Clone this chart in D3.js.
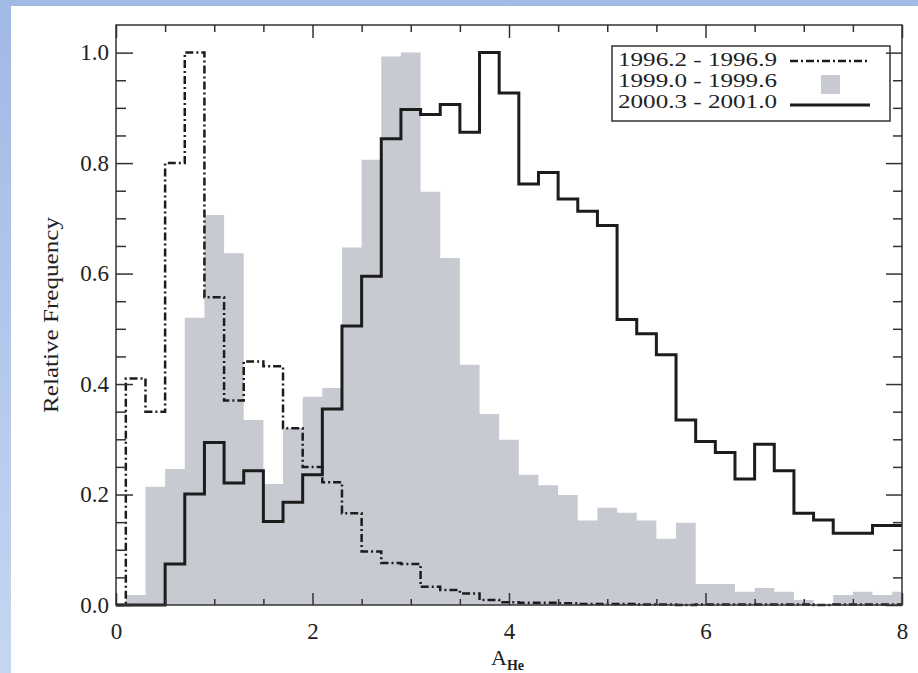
<!DOCTYPE html>
<html>
<head>
    <meta charset="utf-8">
    <title>Relative frequency of A_He</title>
    <style>
        body { margin: 0; }
        svg { display: block; }
        text { font-family: "Liberation Serif", "Times New Roman", serif; fill: #222; }
    </style>
    <script src="https://cdn.jsdelivr.net/npm/d3@7"></script>
</head>
<body>
    <script>
        // bin centres, width 0.2
        const binCenters = [0, 0.2, 0.4, 0.6, 0.8, 1.0, 1.2, 1.4, 1.6, 1.8, 2.0, 2.2, 2.4, 2.6, 2.8, 3.0,
            3.2, 3.4, 3.6, 3.8, 4.0, 4.2, 4.4, 4.6, 4.8, 5.0, 5.2, 5.4, 5.6, 5.8, 6.0, 6.2, 6.4, 6.6,
            6.8, 7.0, 7.2, 7.4, 7.6, 7.8, 8.0]
        const binWidth = 0.2

        // 1996.2 - 1996.9 (dash-dot)
        const freq1996 = [0, 0.41, 0.35, 0.80, 1.0, 0.557, 0.37, 0.441, 0.432, 0.32, 0.25, 0.222, 0.166, 0.097,
            0.076, 0.074, 0.033, 0.027, 0.021, 0.009, 0.005, 0.004, 0.004, 0.003, 0.002, 0.002, 0.002, 0.001,
            0.001, 0, 0.001, 0.001, 0.001, 0.001, 0.001, 0.001, 0, 0.001, 0.001, 0.001, 0.001]
        // 1999.0 - 1999.6 (grey fill)
        const freq1999 = [0, 0.018, 0.214, 0.246, 0.52, 0.706, 0.637, 0.335, 0.219, 0.32, 0.377, 0.393, 0.647,
            0.806, 0.993, 1.0, 0.748, 0.628, 0.435, 0.346, 0.299, 0.236, 0.217, 0.199, 0.153, 0.176, 0.167,
            0.153, 0.12, 0.149, 0.038, 0.038, 0.024, 0.031, 0.024, 0.009, 0.0, 0.018, 0.024, 0.018, 0.024]
        // 2000.3 - 2001.0 (solid)
        const freq2000 = [0, 0, 0, 0.074, 0.201, 0.294, 0.221, 0.243, 0.151, 0.186, 0.236, 0.355, 0.505,
            0.595, 0.844, 0.897, 0.888, 0.906, 0.856, 1.0, 0.927, 0.762, 0.783, 0.735, 0.713, 0.687, 0.517,
            0.491, 0.453, 0.335, 0.296, 0.276, 0.228, 0.291, 0.243, 0.166, 0.154, 0.13, 0.13, 0.144, 0.144]

        const legendLabels = ["1996.2 - 1996.9", "1999.0 - 1999.6", "2000.3 - 2001.0"]
        const xTickLabels = [0, 2, 4, 6, 8]
        const yTickLabels = [0, 0.2, 0.4, 0.6, 0.8, 1.0]

        const width = 918
        const height = 673
        const plotLeft = 116, plotRight = 902, plotTop = 25, plotBottom = 605
        const grey = "#c8cad2"
        const ink = "#1c1c1c"

        let svg = d3.select("body").append("svg")
            .attr("width", width)
            .attr("height", height)

        // blue slide background
        let grad = svg.append("defs").append("linearGradient")
            .attr("id", "bg").attr("x1", 0).attr("y1", 0).attr("x2", 0).attr("y2", 1)
        grad.append("stop").attr("offset", 0).attr("stop-color", "#a0b9e5")
        grad.append("stop").attr("offset", 1).attr("stop-color", "#c6d6f2")
        svg.append("rect").attr("width", width).attr("height", height).attr("fill", "url(#bg)")
        svg.append("rect").attr("x", 11).attr("y", 6).attr("width", width - 11).attr("height", height - 6)
            .attr("fill", "white")

        let x = d3.scaleLinear().domain([0, 8]).range([plotLeft, plotRight])
        let y = d3.scaleLinear().domain([0, 1.05]).range([plotBottom, plotTop])

        function steps(values) {
            let pts = []
            binCenters.forEach((c, i) => {
                pts.push([Math.max(0, c - binWidth / 2), values[i]])
                pts.push([Math.min(8, c + binWidth / 2), values[i]])
            })
            return pts
        }

        let line = d3.line().x(d => x(d[0])).y(d => y(d[1]))
        let area = d3.area().x(d => x(d[0])).y0(y(0)).y1(d => y(d[1]))

        svg.append("path")
            .attr("d", area(steps(freq1999)))
            .attr("fill", grey)

        svg.append("path")
            .attr("d", line(steps(freq1996)))
            .attr("fill", "none")
            .attr("stroke", ink)
            .attr("stroke-width", 2.5)
            .attr("stroke-dasharray", "8,3,2,3")

        svg.append("path")
            .attr("d", line(steps(freq2000)))
            .attr("fill", "none")
            .attr("stroke", ink)
            .attr("stroke-width", 3)

        // legend
        let legend = svg.append("g")
        legend.append("rect")
            .attr("x", 612).attr("y", 46).attr("width", 278).attr("height", 75)
            .attr("fill", "white").attr("stroke", "#333").attr("stroke-width", 1.5)
        legend.selectAll("text")
            .data(legendLabels)
            .enter()
            .append("text")
                .attr("x", 618)
                .attr("y", (d, i) => 66 + i * 21)
                .attr("font-size", 19)
                .attr("textLength", 159)
                .attr("lengthAdjust", "spacingAndGlyphs")
                .text(d => d)
        legend.append("line")
            .attr("x1", 790).attr("x2", 867).attr("y1", 61).attr("y2", 61)
            .attr("stroke", ink).attr("stroke-width", 2.5).attr("stroke-dasharray", "8,3,2,3")
        legend.append("rect")
            .attr("x", 821).attr("y", 75).attr("width", 19).attr("height", 19).attr("fill", grey)
        legend.append("line")
            .attr("x1", 790).attr("x2", 870).attr("y1", 105).attr("y2", 105)
            .attr("stroke", ink).attr("stroke-width", 3)

        // axes with inward ticks on all four sides
        let xMinor = d3.range(0, 8.01, 0.5).filter(v => v % 2 !== 0)
        let yMinor = d3.range(0, 1.001, 0.05).filter(v => Math.abs(v * 5 - Math.round(v * 5)) > 1e-6)

        function tickGroup(axis, tx, ty) {
            let g = svg.append("g").attr("transform", `translate(${tx},${ty})`).call(axis)
            g.select(".domain").remove()
            g.selectAll("line").attr("stroke", "#333").attr("stroke-width", 1.5)
            g.selectAll("text").attr("font-size", 23).attr("fill", "#222")
            return g
        }

        tickGroup(d3.axisBottom(x).tickValues(xTickLabels).tickSize(-12).tickPadding(18).tickFormat(d3.format("d")), 0, plotBottom)
        tickGroup(d3.axisBottom(x).tickValues(xMinor).tickSize(-6).tickFormat(""), 0, plotBottom)
        tickGroup(d3.axisTop(x).tickValues(xTickLabels).tickSize(-13).tickFormat(""), 0, plotTop)
        tickGroup(d3.axisTop(x).tickValues(xMinor).tickSize(-7).tickFormat(""), 0, plotTop)

        tickGroup(d3.axisLeft(y).tickValues(yTickLabels).tickSize(-17).tickPadding(7).tickFormat(d3.format(".1f")), plotLeft, 0)
        tickGroup(d3.axisLeft(y).tickValues(yMinor).tickSize(-10).tickFormat(""), plotLeft, 0)
        tickGroup(d3.axisRight(y).tickValues(yTickLabels).tickSize(-16).tickFormat(""), plotRight, 0)
        tickGroup(d3.axisRight(y).tickValues(yMinor).tickSize(-9).tickFormat(""), plotRight, 0)

        svg.append("rect")
            .attr("x", plotLeft).attr("y", plotTop)
            .attr("width", plotRight - plotLeft).attr("height", plotBottom - plotTop)
            .attr("fill", "none").attr("stroke", "#333").attr("stroke-width", 1.5)

        // axis titles
        svg.append("text")
            .attr("transform", `translate(58,${(plotTop + plotBottom) / 2}) rotate(-90)`)
            .attr("text-anchor", "middle")
            .attr("font-size", 22)
            .attr("textLength", 196)
            .attr("lengthAdjust", "spacingAndGlyphs")
            .text("Relative Frequency")

        let xt = svg.append("text")
            .attr("x", 491)
            .attr("y", 665)
            .attr("font-size", 22)
        xt.append("tspan").text("A")
        xt.append("tspan").attr("font-size", 14).attr("font-weight", "bold").attr("dy", 5).text("He")
    </script>
</body>
</html>
